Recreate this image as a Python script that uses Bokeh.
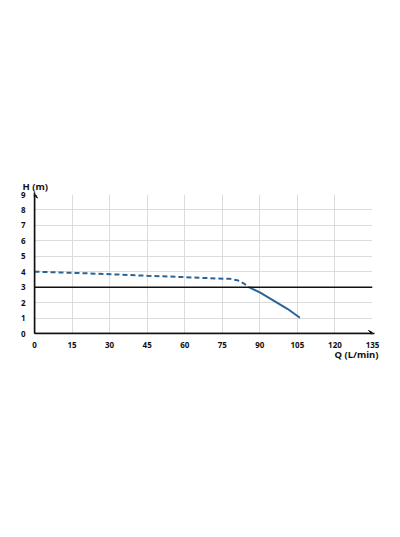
from bokeh.plotting import figure
from bokeh.models import Range1d, FixedTicker, Span, Arrow, VeeHead, Title
from bokeh.embed import file_html
from bokeh.resources import INLINE

# Data
x_ticks = [0, 15, 30, 45, 60, 75, 90, 105, 120, 135]
y_ticks = [0, 1, 2, 3, 4, 5, 6, 7, 8, 9]
q_dashed = [0, 15, 30, 45, 60, 70, 78, 81, 83.5, 85.6]
h_dashed = [4.0, 3.93, 3.84, 3.74, 3.65, 3.58, 3.54, 3.45, 3.25, 3.0]
q_solid = [85.6, 90, 96, 101, 106]
h_solid = [3.0, 2.66, 2.08, 1.6, 1.02]
h_ref = 3
x_label = "Q (L/min)"
y_label = "H (m)"

FONT = "Noto Sans"
BLUE = "#2a6496"

W, H = 392, 530
LB, RB, TB = 34, 20, 194
FRAME_H = 139
BB = H - TB - FRAME_H

p = figure(width=W, height=H, output_backend="svg", toolbar_location=None,
           x_range=Range1d(0, 135), y_range=Range1d(0, 9),
           min_border_left=LB, min_border_right=RB, min_border_top=TB, min_border_bottom=BB)
p.outline_line_color = None
p.background_fill_color = "white"

for ax, ticks in ((p.xaxis[0], x_ticks), (p.yaxis[0], y_ticks)):
    ax.ticker = FixedTicker(ticks=ticks)
    ax.axis_line_color = "#111111"
    ax.axis_line_width = 1.5
    ax.major_tick_line_color = None
    ax.minor_tick_line_color = None
    ax.major_tick_out = 0
    ax.major_tick_in = 0
    ax.major_label_text_font = FONT
    ax.major_label_text_font_style = "bold"
    ax.major_label_text_font_size = "8px"
    ax.major_label_text_color = "#111111"
p.xaxis.major_label_standoff = 8
p.yaxis.major_label_standoff = 9

p.xgrid.ticker = FixedTicker(ticks=x_ticks)
p.ygrid.ticker = FixedTicker(ticks=y_ticks)
p.grid.grid_line_color = "#dcdcdc"
p.grid.grid_line_width = 1

p.add_layout(Span(location=h_ref, dimension="width", line_color="#111111", line_width=1.5))

p.line(q_dashed, h_dashed, line_color=BLUE, line_width=2, line_dash="5 3")
p.line(q_solid, h_solid, line_color=BLUE, line_width=2)

p.add_layout(Arrow(x_start=0, y_start=0, x_end=135.8, y_end=0, line_color="#111111", line_width=1.5,
                   end=VeeHead(size=6, line_color="#111111", fill_color="#111111", line_width=1)))
p.add_layout(Arrow(x_start=0, y_start=0, x_end=0, y_end=9.15, line_color="#111111", line_width=1.5,
                   end=VeeHead(size=6, line_color="#111111", fill_color="#111111", line_width=1)))

p.add_layout(Title(text=y_label, align="left", offset=-12, standoff=3, vertical_align="bottom",
                   text_font=FONT, text_font_style="bold", text_font_size="9.5px",
                   text_color="#111111"), "above")
p.add_layout(Title(text=x_label, align="right", offset=-6, standoff=-5, vertical_align="top",
                   text_font=FONT, text_font_style="bold", text_font_size="9.5px",
                   text_color="#111111"), "below")

open("out.html", "w").write(file_html(p, INLINE))
